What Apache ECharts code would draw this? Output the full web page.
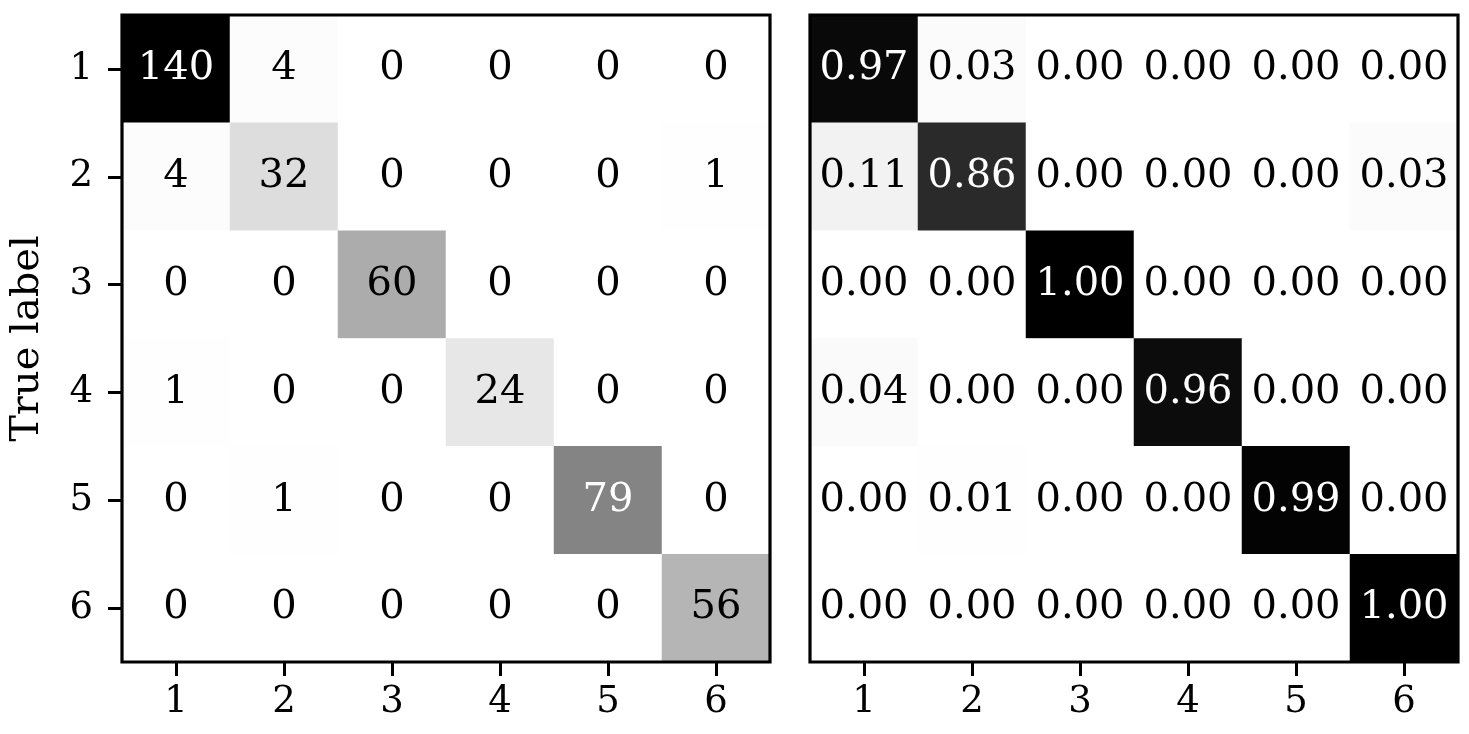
<!DOCTYPE html>
<html>
<head>
<meta charset="utf-8">
<script src="https://cdn.jsdelivr.net/npm/echarts@6/dist/echarts.min.js"></script>
<style>
html,body{margin:0;padding:0;background:#fff;}
#chart{width:1469px;height:734px;}
</style>
</head>
<body>
<div id="chart"></div>
<script>
const categories = ['1', '2', '3', '4', '5', '6'];
const counts = [
  [140, 4, 0, 0, 0, 0],
  [4, 32, 0, 0, 0, 1],
  [0, 0, 60, 0, 0, 0],
  [1, 0, 0, 24, 0, 0],
  [0, 1, 0, 0, 79, 0],
  [0, 0, 0, 0, 0, 56]
];
const normalized = [
  [0.97, 0.03, 0.00, 0.00, 0.00, 0.00],
  [0.11, 0.86, 0.00, 0.00, 0.00, 0.03],
  [0.00, 0.00, 1.00, 0.00, 0.00, 0.00],
  [0.04, 0.00, 0.00, 0.96, 0.00, 0.00],
  [0.00, 0.01, 0.00, 0.00, 0.99, 0.00],
  [0.00, 0.00, 0.00, 0.00, 0.00, 1.00]
];
const yAxisName = 'True label';

const greys = ['#ffffff', '#f0f0f0', '#d9d9d9', '#bdbdbd', '#969696', '#737373', '#525252', '#252525', '#000000'];
const FONT = 'DejaVu Serif';

function toData(matrix) {
  const flat = matrix.flat();
  const mx = Math.max(...flat), mn = Math.min(...flat);
  const thr = (mx + mn) / 2;
  const out = [];
  matrix.forEach((row, r) => row.forEach((v, c) => {
    out.push({ value: [c, r, v], label: { color: v > thr ? '#ffffff' : '#000000' } });
  }));
  return { data: out, min: mn, max: mx };
}
const left = toData(counts);
const right = toData(normalized);

const tickStyle = { show: true, alignWithLabel: true, length: 14, lineStyle: { color: '#000', width: 3 } };

function xAxis(gi) {
  return {
    type: 'category', data: categories, gridIndex: gi,
    axisLine: { show: false },
    axisTick: tickStyle,
    axisLabel: { fontFamily: FONT, fontSize: 37, color: '#000', margin: 22 },
    splitLine: { show: false }, splitArea: { show: false }
  };
}
function yAxis(gi, showLabels) {
  return {
    type: 'category', data: categories, gridIndex: gi, inverse: true,
    name: showLabels ? yAxisName : '', nameLocation: 'middle', nameGap: 74,
    nameTextStyle: { fontFamily: FONT, fontSize: 40, color: '#000' },
    axisLine: { show: false },
    axisTick: Object.assign({}, tickStyle, { show: showLabels }),
    axisLabel: { show: showLabels, fontFamily: FONT, fontSize: 37, color: '#000', margin: 29 },
    splitLine: { show: false }, splitArea: { show: false }
  };
}
function series(gi, d, fmt) {
  return {
    type: 'heatmap', xAxisIndex: gi, yAxisIndex: gi, data: d.data,
    label: { show: true, fontFamily: FONT, fontSize: 40, formatter: p => fmt(p.value[2]) },
    itemStyle: { borderWidth: 0 },
    emphasis: { disabled: true }
  };
}
const gridStyle = { show: true, z: 10, borderColor: '#000', borderWidth: 3.2, backgroundColor: 'transparent', containLabel: false };

const chart = echarts.init(document.getElementById('chart'), null, { renderer: 'canvas' });
chart.setOption({
  animation: false,
  backgroundColor: '#ffffff',
  grid: [
    Object.assign({ left: 122, top: 15, width: 648, height: 647 }, gridStyle),
    Object.assign({ left: 810, top: 15, width: 648, height: 647 }, gridStyle)
  ],
  xAxis: [xAxis(0), xAxis(1)],
  yAxis: [yAxis(0, true), yAxis(1, false)],
  visualMap: [
    { type: 'continuous', show: false, seriesIndex: 0, dimension: 2, min: left.min, max: left.max, inRange: { color: greys } },
    { type: 'continuous', show: false, seriesIndex: 1, dimension: 2, min: right.min, max: right.max, inRange: { color: greys } }
  ],
  series: [
    series(0, left, v => String(v)),
    series(1, right, v => v.toFixed(2))
  ]
});
</script>
</body>
</html>
